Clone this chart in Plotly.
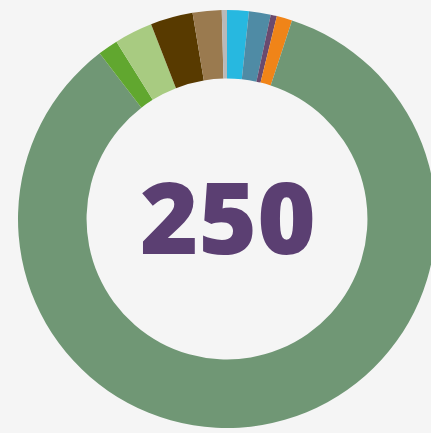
import plotly.graph_objects as go

labels = ["Cyan", "Steel blue", "Purple", "Orange", "Sage", "Green",
          "Light green", "Dark brown", "Tan", "Gray"]
values = [4.2, 4.2, 1.2, 3.0, 211.5, 3.9, 7.4, 8.2, 5.6, 1.0]
colors = ["#27B8E0", "#4F8BA5", "#6A4A6E", "#F08418", "#709775", "#61A72F",
          "#A8CB81", "#583A00", "#9A7A4F", "#B9B9B9"]
center_text = "250"

W, H = 436, 433
fig = go.Figure(go.Pie(
    labels=labels, values=values, sort=False, direction="clockwise", rotation=0,
    hole=0.672, marker=dict(colors=colors, line=dict(width=0)),
    textinfo="none", hoverinfo="skip", showlegend=False,
    domain=dict(x=[18 / W, 1], y=[5 / H, 1 - 10 / H]),
))
fig.add_annotation(text=center_text, x=0.524, y=0.5035, xref="paper", yref="paper",
                   showarrow=False,
                   font=dict(family="Open Sans", size=100, color="#5B3F72", weight=800))
fig.update_layout(width=W, height=H, margin=dict(l=0, r=0, t=0, b=0),
                  paper_bgcolor="#F5F5F5", plot_bgcolor="#F5F5F5")
fig.write_html("out.html", config={"displayModeBar": False}, post_script=(
    "document.body.style.margin='0';"
    "document.body.style.overflow='hidden';"
    "document.documentElement.style.overflow='hidden';"
    "document.body.style.background='#F5F5F5';"
))
